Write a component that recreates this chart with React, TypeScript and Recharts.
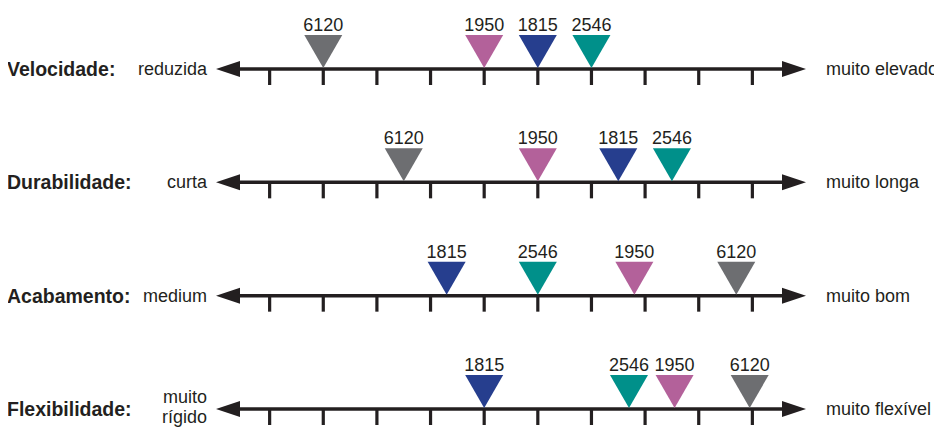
import { ScatterChart, Scatter, XAxis, YAxis, ReferenceLine } from 'recharts'

// criteria rows, top to bottom
const criteria = ['Velocidade:', 'Durabilidade:', 'Acabamento:', 'Flexibilidade:']
const lowEnd = [['reduzida'], ['curta'], ['medium'], ['muito', 'rígido']]
const highEnd = ['muito elevado', 'muito longa', 'muito bom', 'muito flexível']
const scaleTicks = [0, 1, 2, 3, 4, 5, 6, 7, 8, 9]
const axisMin = -1
const axisMax = 10

// marker position of each product on every row (in tick units)
const products = ['6120', '1950', '1815', '2546']
const pos6120 = [1, 2.5, 8.7, 8.95]
const pos1950 = [4, 5, 6.8, 7.55]
const pos1815 = [5, 6.5, 3.3, 4]
const pos2546 = [6, 7.5, 5, 6.7]
const productColors = ['#6d6e71', '#b3619a', '#263e8e', '#00908a']

const INK = '#231f20'
const FONT = "'Liberation Sans', Arial, sans-serif"

const positions = [pos6120, pos1950, pos1815, pos2546]
const markerSeries = products.map((name, k) => ({
  name,
  color: productColors[k],
  data: positions[k].map((x, row) => ({ x, y: row, label: name })),
}))
const tickData = criteria.flatMap((_, row) => scaleTicks.map((x) => ({ x, y: row })))

function ArrowRow(props: any) {
  const { x1, x2, y1, row } = props
  const y = y1
  const low = lowEnd[row]
  return (
    <g>
      <line x1={x1 + 20} x2={x2 - 20} y1={y} y2={y} stroke={INK} strokeWidth={3.5} />
      <polygon points={`${x1},${y} ${x1 + 24},${y - 8} ${x1 + 24},${y + 8}`} fill={INK} />
      <polygon points={`${x2},${y} ${x2 - 24},${y - 8} ${x2 - 24},${y + 8}`} fill={INK} />
      <text x={-1} y={y + 7} fontFamily={FONT} fontWeight={700} fontSize={19.5} fill={INK}>
        {criteria[row]}
      </text>
      {low.length === 1 ? (
        <text x={x1 - 9} y={y + 6} textAnchor="end" fontFamily={FONT} fontSize={18} fill={INK}>
          {low[0]}
        </text>
      ) : (
        <text x={x1 - 9} y={y - 6} textAnchor="end" fontFamily={FONT} fontSize={18} fill={INK}>
          <tspan x={x1 - 9}>{low[0]}</tspan>
          <tspan x={x1 - 9} dy={20}>{low[1]}</tspan>
        </text>
      )}
      <text x={x2 + 20} y={y + 6} fontFamily={FONT} fontSize={18} fill={INK}>
        {highEnd[row]}
      </text>
    </g>
  )
}

function TickMark(props: any) {
  const { cx, cy } = props
  return <line x1={cx} x2={cx} y1={cy} y2={cy + 16} stroke={INK} strokeWidth={3.2} />
}

function Marker(props: any) {
  const { cx, cy, fill, payload } = props
  return (
    <g>
      <polygon points={`${cx},${cy - 1} ${cx - 19},${cy - 34} ${cx + 19},${cy - 34}`} fill={fill} />
      <text x={cx} y={cy - 38} textAnchor="middle" fontFamily={FONT} fontSize={18} fill={INK}>
        {payload.label}
      </text>
    </g>
  )
}

export default function App() {
  return (
    <ScatterChart width={934} height={422} margin={{ top: 61, right: 136, bottom: 21, left: 208 }}>
      <XAxis type="number" dataKey="x" domain={[axisMin, axisMax]} hide />
      <YAxis type="number" dataKey="y" domain={[0, criteria.length - 1]} reversed hide />
      {criteria.map((c, row) => (
        <ReferenceLine
          key={c}
          segment={[{ x: axisMin, y: row }, { x: axisMax, y: row }]}
          shape={(p: any) => <ArrowRow {...p} row={row} />}
        />
      ))}
      <Scatter data={tickData} shape={<TickMark />} isAnimationActive={false} />
      {markerSeries.map((s) => (
        <Scatter key={s.name} name={s.name} data={s.data} fill={s.color} shape={<Marker />} isAnimationActive={false} />
      ))}
    </ScatterChart>
  )
}
